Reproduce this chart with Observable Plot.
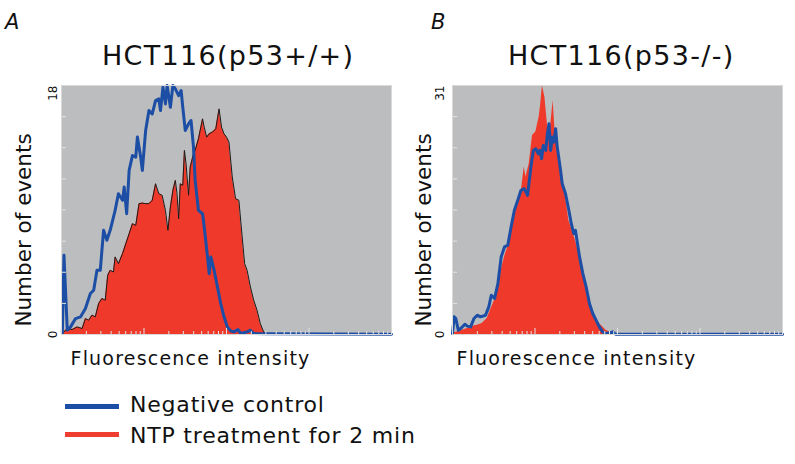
<!DOCTYPE html>
<html>
<head>
<meta charset="utf-8">
<script src="https://cdn.jsdelivr.net/npm/d3@7"></script>
<script src="https://cdn.jsdelivr.net/npm/@observablehq/plot@0.6"></script>
<style>
  html, body { margin: 0; padding: 0; background: #fff; }
  #wrap { position: relative; width: 795px; height: 464px; font-family: "DejaVu Sans", sans-serif; color: #111; overflow: hidden; }
  .t { position: absolute; line-height: 1; white-space: nowrap; }
  .sw { position: absolute; width: 54px; height: 5px; }
  .pl { position: absolute; }
</style>
</head>
<body>
<div id="wrap">
  <div class="t" style="left:5px;top:12px;font-size:21px;font-style:italic;">A</div>
  <div class="t" style="left:431px;top:12px;font-size:21px;font-style:italic;">B</div>
  <div class="t" id="titleA" style="left:102px;top:42px;font-size:27px;letter-spacing:1.3px;"></div>
  <div class="t" id="titleB" style="left:508px;top:42px;font-size:27px;letter-spacing:1.3px;"></div>
  <div class="pl" id="pa" style="left:0;top:70px;"></div>
  <div class="pl" id="pb" style="left:400px;top:70px;"></div>
  <div class="sw" style="left:65px;top:404px;background:#1c4ea5;"></div>
  <div class="t" id="leg0" style="left:130px;top:394px;font-size:22px;letter-spacing:0.8px;"></div>
  <div class="sw" style="left:65px;top:432px;background:#ef3e2f;"></div>
  <div class="t" id="leg1" style="left:130px;top:425px;font-size:22px;letter-spacing:0.8px;"></div>
</div>
<script>
// ---- Data (x = log10 fluorescence intensity, y = number of events) ----
const titles = ["HCT116(p53+/+)", "HCT116(p53-/-)"];
const seriesNames = ["Negative control", "NTP treatment for 2 min"];
const xLabel = "Fluorescence intensity";
const yLabel = "Number of events";
const yMaxA = 18;
const yMaxB = 31;
const yTickLabelsA = ["18", "0"];
const yTickLabelsB = ["31", "0"];

const aBlueX = [0.01,0.03,0.07,0.11,0.17,0.23,0.29,0.35,0.39,0.43,0.47,0.51,0.55,0.59,0.65,0.69,0.74,0.76,0.79,0.82,0.86,0.90,0.92,0.96,0.98,1.02,1.06,1.10,1.14,1.18,1.20,1.23,1.26,1.28,1.32,1.35,1.38,1.42,1.45,1.47,1.50,1.54,1.57,1.60,1.62,1.66,1.71,1.73,1.77,1.79,1.81,1.85,1.89,1.93,1.97,2.01,2.05,2.09,2.14,2.17,2.25,2.29,2.33,2.49,4.0];
const aBlueY = [0.07,5.73,0.31,0.55,1.15,1.27,1.88,2.96,3.20,4.64,4.64,7.53,6.81,7.53,8.97,10.18,9.70,10.66,8.73,11.86,12.94,12.82,14.27,12.82,11.86,14.75,16.19,15.95,16.91,17.03,16.19,17.88,16.67,18.0,16.43,18.0,17.76,17.27,17.64,16.43,14.75,15.23,15.47,13.55,11.14,8.97,8.73,7.77,5.61,4.40,5.61,4.64,3.44,2.24,1.28,0.55,0.26,0.19,0.36,0.07,0.19,0.31,0.07,0.05,0.02];

const aRedX = [0.01,0.07,0.13,0.19,0.25,0.29,0.33,0.37,0.41,0.45,0.49,0.53,0.56,0.59,0.63,0.65,0.69,0.74,0.78,0.82,0.86,0.90,0.94,0.98,1.02,1.06,1.10,1.14,1.18,1.22,1.26,1.29,1.32,1.35,1.38,1.40,1.42,1.44,1.47,1.49,1.51,1.54,1.56,1.60,1.62,1.66,1.71,1.73,1.76,1.79,1.83,1.87,1.91,1.94,1.97,2.00,2.03,2.07,2.11,2.15,2.19,2.22,2.25,2.29,2.33,2.37,2.41,2.45,2.49,4.0];
const aRedY = [0.07,0.43,0.36,0.55,0.43,1.15,1.03,1.40,1.28,2.24,2.60,2.48,4.28,4.64,4.52,5.61,5.12,5.85,6.57,7.29,8.01,7.89,9.46,9.50,9.46,9.46,9.70,10.90,10.18,10.06,8.97,7.53,9.21,10.42,11.14,10.18,8.37,10.90,10.78,13.31,12.34,10.06,12.10,13.06,13.31,14.15,15.59,14.99,14.27,14.51,14.63,14.87,16.31,14.99,14.51,14.27,13.91,11.38,9.82,9.70,7.05,5.12,4.64,3.44,2.48,1.76,0.79,0.19,0.07,0.02];

const bRedX = [0.00,0.06,0.12,0.18,0.24,0.30,0.36,0.42,0.46,0.51,0.55,0.59,0.63,0.67,0.71,0.75,0.79,0.83,0.87,0.89,0.93,0.97,1.01,1.05,1.07,1.09,1.12,1.15,1.18,1.20,1.22,1.24,1.27,1.31,1.34,1.37,1.41,1.45,1.49,1.54,1.58,1.62,1.66,1.70,1.74,1.78,1.82,1.86,1.90,1.96,4.0];
const bRedY = [0.12,0.33,0.54,0.75,1.04,1.16,1.37,1.99,3.03,4.27,5.51,8.00,9.66,10.90,12.56,14.63,16.70,17.53,20.85,19.60,21.26,24.78,25.20,27.06,28.72,31.0,29.55,26.23,24.99,27.06,29.14,25.82,22.92,20.22,19.19,17.12,14.22,12.97,11.73,9.66,8.00,5.93,4.27,3.03,1.99,1.37,0.95,0.54,0.33,0.12,0.0];

const bBlueX = [0.00,0.02,0.04,0.07,0.10,0.15,0.18,0.22,0.26,0.30,0.34,0.40,0.44,0.47,0.51,0.55,0.59,0.63,0.67,0.71,0.75,0.79,0.83,0.87,0.91,0.95,0.98,1.01,1.04,1.06,1.08,1.10,1.13,1.15,1.17,1.19,1.21,1.23,1.25,1.27,1.31,1.33,1.37,1.41,1.44,1.47,1.49,1.54,1.58,1.62,1.66,1.70,1.74,1.78,1.82,1.86,1.91,1.94,1.98,4.0];
const bBlueY = [0.12,2.20,1.99,0.54,0.75,1.28,1.04,0.95,1.99,2.40,2.20,2.40,3.44,4.89,4.48,6.34,9.66,10.90,11.11,13.39,15.46,16.70,17.95,18.15,17.32,20.85,22.92,23.13,22.50,22.92,21.88,23.54,22.92,24.99,26.23,22.92,24.58,23.95,25.61,23.33,20.43,18.77,17.53,15.46,13.80,12.56,12.97,9.66,7.58,5.93,3.85,2.61,1.78,0.95,0.33,0.12,0.21,0.33,0.04,0.04];

// ---- styling ----
const BLUE = "#1c4ea5", RED = "#ef3a2b", BG = "#bcbdbf", TICK = "#e4e4e4";
const xMajor = [1, 10, 100, 1000, 10000];
const xMinor = d3.range(0, 4).flatMap(d => d3.range(2, 10).map(k => k * 10 ** d));

function toRows(xs, ys) { return xs.map((x, i) => ({x: 10 ** x, y: ys[i]})); }

function panel(o) {
  const red = toRows(o.redX, o.redY);
  const blue = toRows(o.blueX, o.blueY);
  const yTicks = d3.range(1, 8).map(k => k * o.yMax / 8);
  const svg = Plot.plot({
    width: o.width, height: 305,
    marginTop: 15, marginBottom: 41, marginLeft: o.marginLeft, marginRight: o.marginRight,
    x: {type: "log", domain: [1, 10000]},
    y: {domain: [0, o.yMax]},
    style: {fontFamily: "'DejaVu Sans', sans-serif", background: "transparent", overflow: "visible", color: "#111"},
    marks: [
      Plot.frame({fill: BG}),
      Plot.areaY(red, {x: "x", y: "y", fill: RED}),
      o.outline ? Plot.lineY(red, {x: "x", y: "y", stroke: "#1a1a1a", strokeWidth: 1}) : null,
      Plot.lineY(blue, {x: "x", y: "y", stroke: BLUE, strokeWidth: 3, strokeLinejoin: "round"}),
      Plot.axisX({ticks: xMinor, tickSize: -3, stroke: TICK, tickFormat: () => "", label: null}),
      Plot.axisX({ticks: xMajor, tickSize: -6, stroke: TICK, tickFormat: () => "", label: null}),
      Plot.axisY({ticks: yTicks, tickSize: -5, stroke: TICK, tickFormat: () => "", label: null}),
      Plot.frame({stroke: "#d9d9d9"}),
      Plot.text([o.tickLabels[0]], {text: d => d, frameAnchor: "top-left", rotate: -90, textAnchor: "end", lineAnchor: "bottom", dx: o.tickDx, fontSize: 12, fill: "#111"}),
      Plot.text([o.tickLabels[1]], {text: d => d, frameAnchor: "bottom-left", rotate: -90, textAnchor: "middle", lineAnchor: "bottom", dx: o.tickDx, fontSize: 12, fill: "#111"}),
      Plot.text([yLabel], {text: d => d, frameAnchor: "left", rotate: -90, textAnchor: "middle", lineAnchor: "bottom", dx: o.yLabelDx, dy: 20, fontSize: 21.5, fill: "#111"}),
      Plot.text([xLabel], {text: d => d, frameAnchor: "bottom-left", textAnchor: "start", lineAnchor: "bottom", dx: o.xLabelDx, dy: 30, fontSize: 19, fill: "#111", className: "xlab"})
    ]
  });
  d3.select(svg).selectAll("text").filter(function() { return this.textContent === xLabel; })
    .attr("letter-spacing", "1.2px");
  return svg;
}

document.getElementById("titleA").textContent = titles[0];
document.getElementById("titleB").textContent = titles[1];
document.getElementById("leg0").textContent = seriesNames[0];
document.getElementById("leg1").textContent = seriesNames[1];

document.getElementById("pa").appendChild(panel({
  redX: aRedX, redY: aRedY, blueX: aBlueX, blueY: aBlueY, yMax: yMaxA, outline: true,
  width: 400, marginLeft: 61, marginRight: 9, tickDx: -5, yLabelDx: -31, xLabelDx: 9, tickLabels: yTickLabelsA
}));
document.getElementById("pb").appendChild(panel({
  redX: bRedX, redY: bRedY, blueX: bBlueX, blueY: bBlueY, yMax: yMaxB, outline: false,
  width: 395, marginLeft: 52, marginRight: 13, tickDx: -9, yLabelDx: -22, xLabelDx: 4, tickLabels: yTickLabelsB
}));
</script>
</body>
</html>
